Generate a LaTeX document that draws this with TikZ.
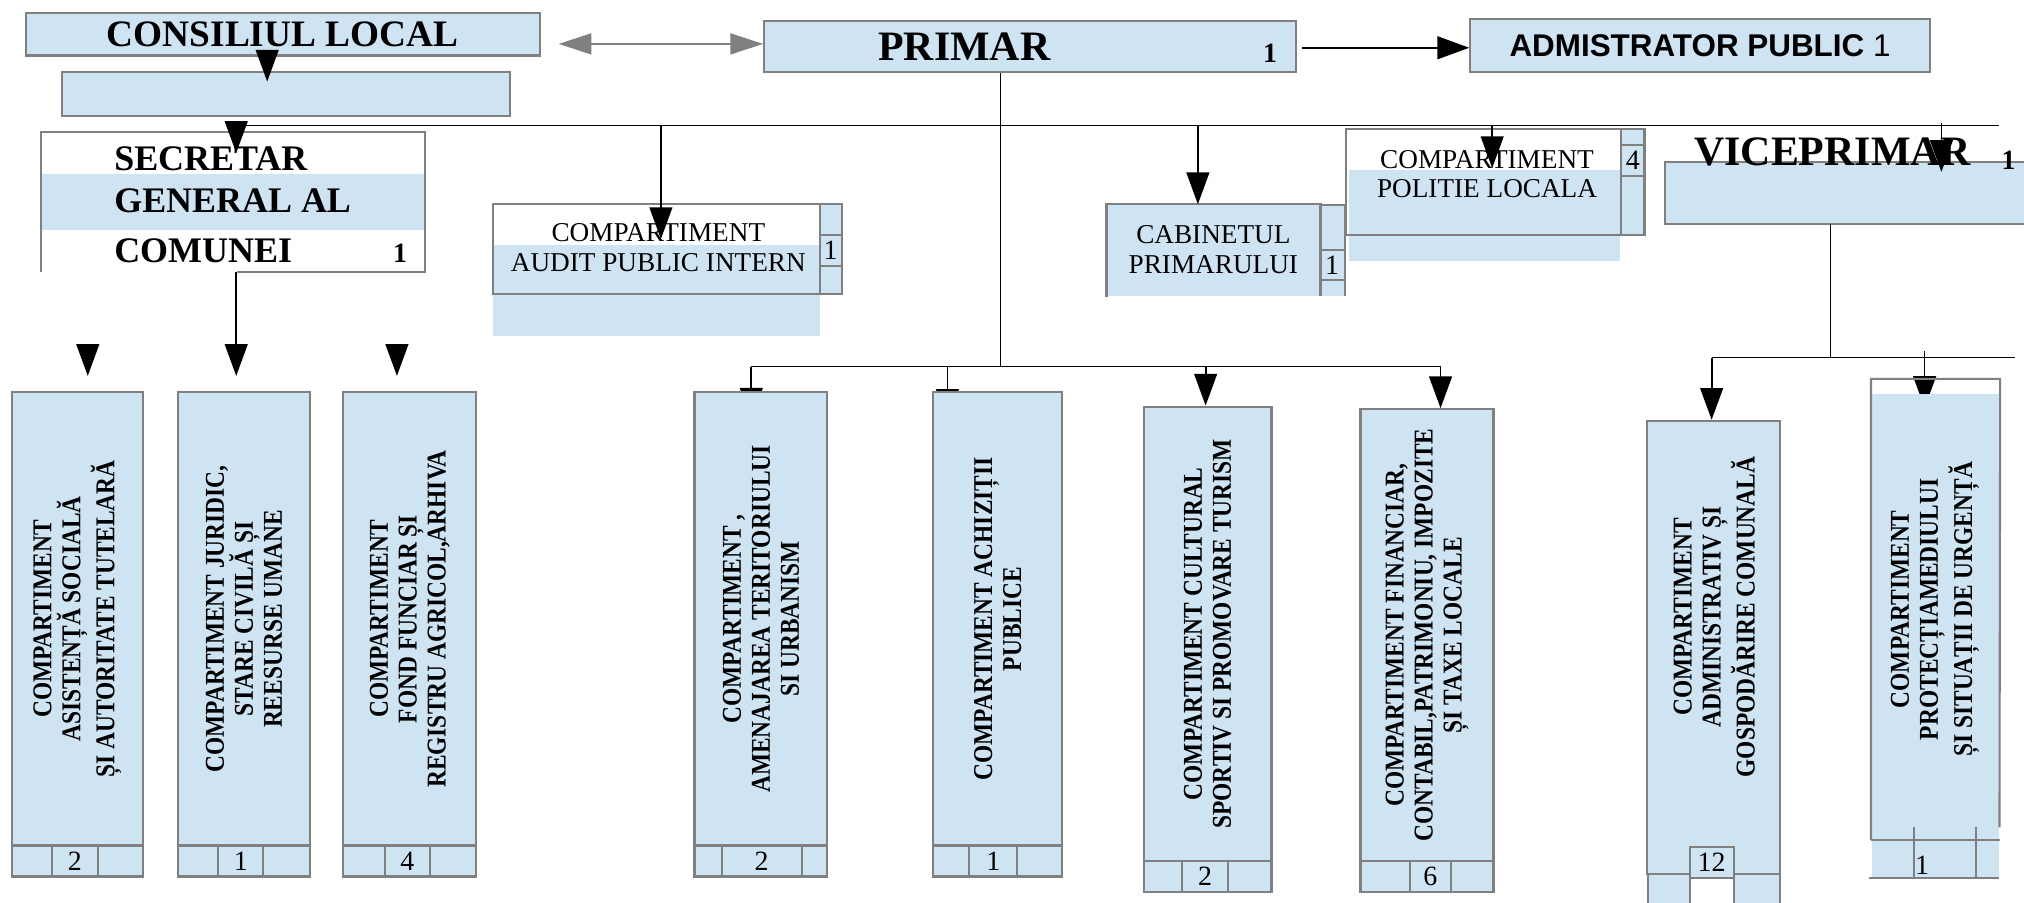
\documentclass[tikz,border=0pt]{standalone}
\usepackage{fontspec}
\setmainfont{Liberation Serif}
\newfontfamily\narrowfont[FakeStretch=0.86]{Liberation Serif}
\newfontfamily\arialfont{Liberation Sans}
\usetikzlibrary{arrows.meta,fit,calc}
\definecolor{boxblue}{RGB}{207,228,242}
\definecolor{edgegray}{RGB}{128,128,128}

\begin{document}
\begin{tikzpicture}[x=0.13mm,y=-0.13mm,
    box/.style={draw=edgegray,fill=boxblue,line width=0.6pt,inner sep=0pt},
    frame/.style={draw=edgegray,line width=0.6pt},
    arr/.style={-{Triangle[length=3.2mm,width=2.3mm]},line width=0.5pt},
    garr/.style={{Triangle[length=3.3mm,width=2.1mm]}-{Triangle[length=3.3mm,width=2.1mm]},draw=edgegray,line width=0.6pt},
    small/.style={font=\fontsize{7.8}{8.5}\selectfont,align=center,inner sep=0pt},
    head/.style={font=\bfseries\fontsize{10.3}{12}\selectfont,inner sep=0pt},
    coltext/.style={font=\narrowfont\bfseries\fontsize{7.8}{8.3}\selectfont,align=center,rotate=90,inner sep=0pt},
    num/.style={font=\fontsize{8}{9}\selectfont,inner sep=0pt},
    numb/.style={font=\bfseries\fontsize{8}{9}\selectfont,inner sep=0pt}]
  \path[use as bounding box] (0,0) rectangle (1568,699);

  \coordinate (busL) at (183,97); \coordinate (busR) at (1549,97);
  \coordinate (busA) at (512,97); \coordinate (busC) at (928,97);
  \coordinate (busP) at (1156,97); \coordinate (busV) at (1504,95);
  \coordinate (midbus) at (775,284); \coordinate (lowL) at (582,284); \coordinate (lowR) at (1116,284);
  \coordinate (b5) at (734,284); \coordinate (b6) at (934,284);
  \coordinate (vbus) at (1418,277); \coordinate (vbusL) at (1326,277); \coordinate (vbusR) at (1561,277);
  \coordinate (b9) at (1491,272);
  \coordinate (t4) at (582,325); \coordinate (t5) at (734,326); \coordinate (t9) at (1491,316);

  \draw (lowL) -- (lowR); \draw (vbusL) -- (vbusR);
  \draw[arr] (lowL) -- (t4); \draw[arr] (b5) -- (t5); \draw[arr] (b9) -- (t9);

  \node[box,fit={(20,10) (418,43)}] (cl) {};
  \node[font=\bfseries\fontsize{10.7}{12}\selectfont,inner sep=0pt] (clT) at (cl) {CONSILIUL LOCAL};
  \node[box,fit={(48,56) (395,90)}] (clsub) {};
  \node[box,fit={(592,16) (1004,56)}] (primar) {};
  \node[font=\bfseries\fontsize{12}{14}\selectfont,inner sep=0pt] (primarT) at (747,36) {PRIMAR};
  \node[numb] (primarN) at (984,41) {1};
  \node[box,fit={(1139,15) (1495,56)}] (admin) {};
  \node[font=\arialfont\fontsize{9}{11}\selectfont,inner sep=0pt] (adminT) at (admin) {\textbf{ADMISTRATOR PUBLIC} 1};

  \fill[boxblue] (32,135) rectangle (329,178);
  \node[fit={(32,103) (329,210)},inner sep=0pt] (secretar) {};
  \draw[frame] (secretar.south west) -- (secretar.north west) -- (secretar.north east) -- (secretar.south east) -- ++(-146,0);
  \node[head,anchor=base west] (secT1) at (88,132) {SECRETAR};
  \node[head,anchor=base west] (secT2) at (88,165) {GENERAL AL};
  \node[head,anchor=base west] (secT3) at (88,203) {COMUNEI};
  \node[numb,anchor=base] (secN) at (310,203) {1};

  \fill[boxblue] (382,190) rectangle (635,260);
  \node[frame,fit={(382,158) (635,228)},inner sep=0pt] (audit) {};
  \node[box,fit={(635,158) (652,228)}] (auditS) {};
  \draw[frame] (635,182) -- (652,182) (635,206) -- (652,206);
  \node[num] (auditN) at (643.5,194) {1};
  \node[small] (auditT) at (510,192) {COMPARTIMENT\\AUDIT PUBLIC INTERN};

  \node[box,draw=none,fit={(858,159) (1023,229)}] (cabinet) {};
  \draw[frame] (cabinet.south west) -- (cabinet.north west) -- (cabinet.north east);
  \fill[boxblue] (1023,159) rectangle (1042,229);
  \draw[frame] (1023,229) -- (1023,159) -- (1042,159) -- (1042,229) (1023,194) -- (1042,194) (1023,217) -- (1042,217);
  \node[num] (cabinetN) at (1032,205.5) {1};
  \node[small] (cabinetT) at (940,193.5) {CABINETUL\\PRIMARULUI};

  \fill[boxblue] (1045,132) rectangle (1255,202);
  \node[frame,fit={(1043,100) (1256,182)},inner sep=0pt] (politie) {};
  \node[box,fit={(1256,100) (1274,182)}] (politieS) {};
  \draw[frame] (1256,112) -- (1274,112) (1256,136) -- (1274,136);
  \node[num] (politieN) at (1265,124) {4};
  \node[small] (politieT) at (1152,135) {COMPARTIMENT\\POLITIE LOCALA};

  \node[box,draw=none,fit={(1291,126) (1570,173)}] (vice) {};
  \draw[frame] (vice.north east) -- (vice.north west) -- (vice.south west) -- (vice.south east);
  \node[font=\bfseries\fontsize{12}{14}\selectfont,anchor=base west,inner sep=0pt] (viceT) at (1312,128) {VICEPRIMAR};
  \node[numb,anchor=base] (viceN) at (1556,131) {1};

  \foreach \cn/\xl/\xr/\yt/\yb/\da/\db/\nr/\txt in {
      c1/9/111/304/655/40/76/2/{COMPARTIMENT\\ASISTENȚĂ SOCIALĂ\\ȘI AUTORITATE TUTELARĂ},
      c2/138/240/304/655/169/204/1/{COMPARTIMENT JURIDIC,\\STARE CIVILĂ ȘI\\REESURSE UMANE},
      c3/266/369/304/655/298/333/4/{COMPARTIMENT\\FOND FUNCIAR ȘI\\REGISTRU AGRICOL,ARHIVA},
      c4/538/641/304/655/559/621/2/{COMPARTIMENT ,\\AMENAJAREA TERITORIULUI\\SI URBANISM},
      c5/723/823/304/655/751/788/1/{COMPARTIMENT ACHIZIȚII\\PUBLICE},
      c6/886/985/315/667/916/951/2/{COMPARTIMENT CULTURAL\\SPORTIV SI PROMOVARE TURISM},
      c7/1054/1157/317/667/1092/1124/6/{COMPARTIMENT FINANCIAR,\\CONTABIL,PATRIMONIU, IMPOZITE\\ȘI TAXE LOCALE}}
  {
    \node[box,fit={(\xl,\yt) (\xr,\yb)}] (\cn) {};
    \draw[box] (\xl,\yb) rectangle (\xr,\yb+24);
    \draw[frame] (\da,\yb) -- (\da,\yb+24) (\db,\yb) -- (\db,\yb+24);
    \node[num] (\cn-n) at ({(\da+\db)/2},\yb+12) {\nr};
    \node[coltext] (\cn-t) at (\cn) {\txt};
  }

  \node[box,fit={(1276,326) (1379,677)}] (c8) {};
  \draw[box] (1277,677) rectangle (1309,705) (1343,677) rectangle (1379,705);
  \node[box,fit={(1309,656) (1343,680)}] (c8-c) {};
  \node[num] (c8-n) at (c8-c) {12};
  \node[coltext] (c8-t) at (1328,478) {COMPARTIMENT\\ADMINISTRATIV ȘI\\GOSPODĂRIRE COMUNALĂ};

  \fill[boxblue] (1450,305) rectangle (1549,680);
  \node[fit={(1450,294) (1549,650)},inner sep=0pt] (c9) {};
  \draw[frame] (c9.south west) -- (c9.north west) -- (c9.north east) -- (1549,641);
  \draw[frame] (c9.south west) -- (c9.south east) (1448,680) -- (1549,680) (1483,641) -- (1483,680) (1531,641) -- (1531,680);
  \node[num] (c9-n) at (1489,670) {1};
  \node[coltext] (c9-t) at (1499,472) {COMPARTIMENT\\PROTECȚIAMEDIULUI\\ȘI SITUAȚII DE URGENȚĂ};

  \draw[arr] ($(cl.south)+(-12,0)$) -- ($(clsub.north)+(-14.5,8)$);
  \draw[garr] ($(cl.east)+(14,7.5)$) -- ($(primar.west)+(0,-2)$);
  \draw[arr] ($(primar.east)+(4,1)$) -- ($(admin.west)+(0,1.5)$);
  \draw (primar.south -| midbus) -- (midbus);
  \draw (busL) -- (busR);
  \draw[arr] (busL) -- ($(busL |- secretar.north)+(0,16)$);
  \draw[arr] (busA) -- ($(busA |- audit.north)+(0,28)$);
  \draw[arr] (busC) -- (busC |- cabinet.north);
  \draw[arr] (busP) -- ($(busP |- politie.north)+(0,31)$);
  \draw[arr] (busV) -- ($(busV |- vice.north)+(0,8)$);
  \draw[arr] (secretar.south -| busL) -- ($(busL |- c2.north)+(0,-12)$);
  \draw[arr] ($(c1.north)+(8,-37)$) -- ($(c1.north)+(8,-12)$);
  \draw[arr] ($(c3.north)+(-10,-37)$) -- ($(c3.north)+(-10,-12)$);
  \draw[arr] (b6) -- (b6 |- c6.north);
  \draw[arr] (lowR) -- (lowR |- c7.north);
  \draw (vice.south -| vbus) -- (vbus);
  \draw[arr] (vbusL) -- (vbusL |- c8.north);
\end{tikzpicture}
\end{document}
